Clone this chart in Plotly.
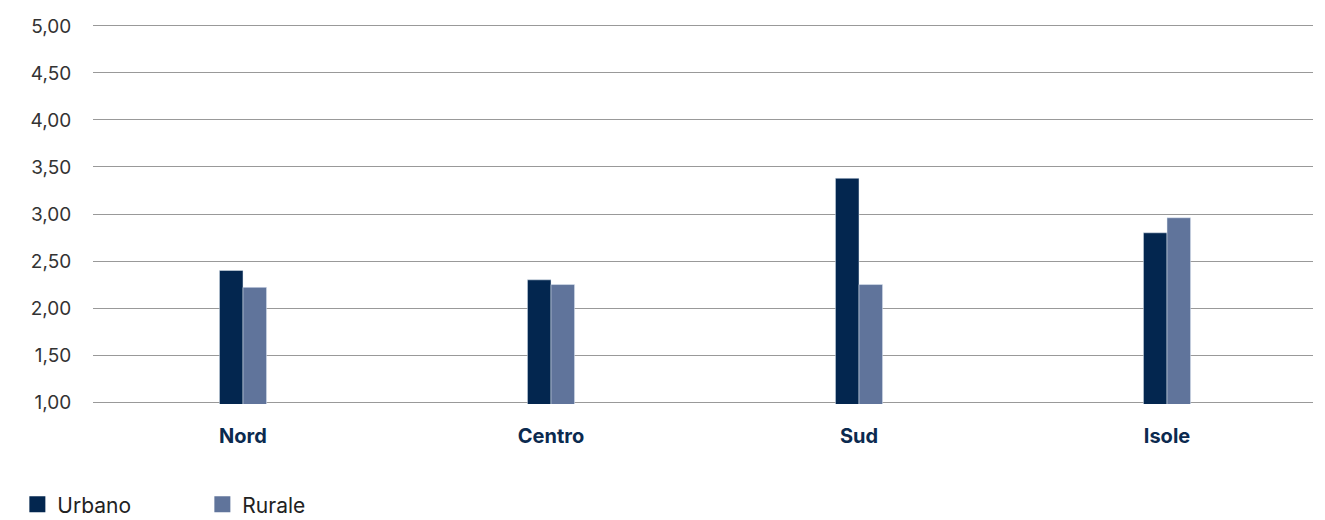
import plotly.graph_objects as go

categories = ["Nord", "Centro", "Sud", "Isole"]
urbano = [2.40, 2.30, 3.38, 2.80]
rurale = [2.22, 2.25, 2.25, 2.96]
tick_vals = [1.0, 1.5, 2.0, 2.5, 3.0, 3.5, 4.0, 4.5, 5.0]
series_names = ["Urbano", "Rurale"]
series_colors = ["#03264f", "#60749b"]

fig = go.Figure()
for name, vals, col in zip(series_names, [urbano, rurale], series_colors):
    fig.add_trace(go.Bar(name=name, x=categories, y=vals, marker_color=col,
                         showlegend=False, legendgroup=name))
for name, col in zip(series_names, series_colors):
    fig.add_trace(go.Scatter(name=name, x=[None], y=[None], mode="markers",
                             marker=dict(symbol="square", size=16, color=col,
                                         line=dict(width=0)),
                             showlegend=True, legendgroup=name))

fig.update_layout(
    width=1325, height=520,
    margin=dict(l=93, r=12, t=24, b=116, autoexpand=False),
    plot_bgcolor="white", paper_bgcolor="white",
    barmode="group", bargap=0.847, bargroupgap=0,
    separators=",.",
    font=dict(family="Inter, Lato, sans-serif", color="#333333", size=17),
    showlegend=True,
    legend=dict(orientation="h", x=-0.062, xanchor="left", y=-0.265, yanchor="middle",
                font=dict(size=21, color="#222222"), entrywidth=140, itemwidth=30,
                traceorder="normal", tracegroupgap=0),
    xaxis=dict(range=[-0.487, 3.474], showgrid=False, ticks="outside", ticklen=14,
               tickcolor="rgba(0,0,0,0)",
               tickfont=dict(size=20, color="#0b2a4f", family="Inter, sans-serif", weight="bold"),
               showline=False, automargin=False),
    yaxis=dict(range=[0.98, 5.02], tickvals=tick_vals, tickformat=".2f",
               showgrid=True, gridcolor="#999999", gridwidth=1,
               zeroline=False, showline=False, ticks="outside", ticklen=17,
               tickcolor="rgba(0,0,0,0)", tickfont=dict(size=19, color="#333333"),
               automargin=False),
)
fig.write_html("out.html", config={"displayModeBar": False},
               post_script="document.body.style.margin='0';")
